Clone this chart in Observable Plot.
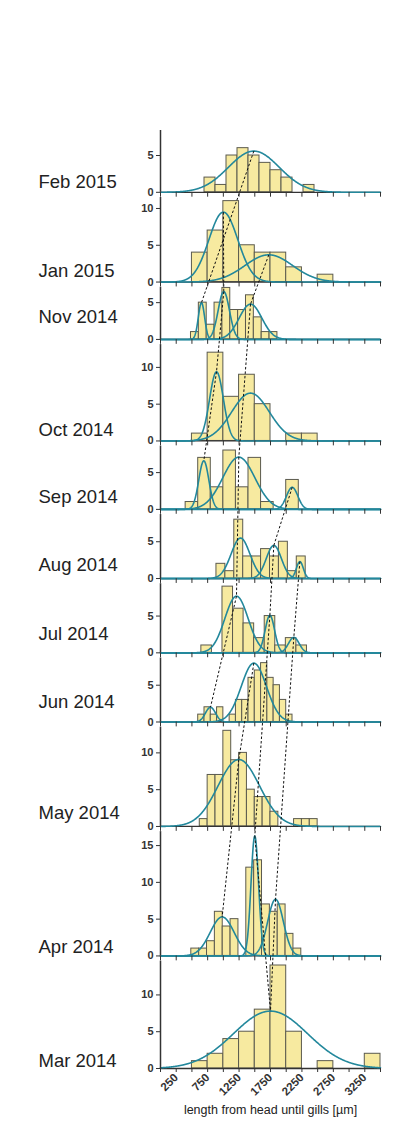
<!DOCTYPE html>
<html><head><meta charset="utf-8">
<script src="https://cdn.jsdelivr.net/npm/d3@7"></script>
<script src="https://cdn.jsdelivr.net/npm/@observablehq/plot@0.6"></script>
<style>body{margin:0;background:#fff;font-family:"Liberation Sans",Arial,sans-serif}</style>
</head><body><div id="chart"></div>
<script>
// panels, top to bottom
const months = ["Feb 2015","Jan 2015","Nov 2014","Oct 2014","Sep 2014","Aug 2014","Jul 2014","Jun 2014","May 2014","Apr 2014","Mar 2014"];
// histogram bins: first edge and width (µm), then counts per bin
const binStart = [700, 500, 485, 500, 400, 890, 650, 600, 625, 490, 500];
const binWidth = [175, 250, 125, 250, 200, 142, 168, 100, 125, 125, 250];
const counts = [
  [2,1,5,6,5,4,3,2,0,1],
  [4,7,11,5,4,4,2,0,1],
  [1,5,2,5,7,4,4,6,3,1,1],
  [1,12,6,9,5,0,1,1],
  [1,7,3,8,3,7,1,0,4],
  [2,1,8,3,3,4,3,5,1,3],
  [1,0,9,6,4,2,5,1,2,1],
  [1,2,1,2,0,1,3,3,6,7,8,6,5,3,1],
  [1,7,7,13,9,10,5,4,4,2,0,0,1,1,1],
  [1,1,2,6,4,5,0,12,13,7,6,7,3,1],
  [1,2,4,5,8,14,5,0,1,0,0,2]
];
// fitted gaussian components per panel
const gaussMean = [[1485],[1000,1723],[652,1007,1432],[891,1432],[689,1246,2095],[1273,1803,2217],[1209,1740,2121],[795,1485],[1246],[981,1500,1830],[1750]];
const gaussSD   = [[405],[230,380],[50,90,180],[110,300],[80,255,90],[150,120,55],[185,75,85],[80,200],[330],[190,60,125],[590]];
const gaussAmp  = [[5.6],[9.5,3.7],[5.0,6.5,4.8],[9.4,6.5],[6.6,7.1,3.0],[5.5,4.5,2.3],[7.7,5.1,2.1],[2.0,8.0],[9.1],[5.3,16.3,7.7],[7.8]];
// top of each panel's count axis
const axisTop = [8.4, 11.5, 7.1, 13.1, 8.6, 8.7, 9.4, 8.7, 13.5, 16.9, 14.6];
const yTickValues = [0, 5, 10, 15];
const xTickValues = d3.range(0, 3501, 250);
const xLabelValues = [250, 750, 1250, 1750, 2250, 2750, 3250];
const xTitle = "length from head until gills [µm]";
// dashed connections between component peaks [upper month, comp, lower month, comp]
const links = [
  ["Feb 2015",0,"Nov 2014",0],
  ["Jan 2015",0,"Nov 2014",1],
  ["Jan 2015",1,"Nov 2014",2],
  ["Nov 2014",1,"Oct 2014",0],
  ["Nov 2014",2,"Sep 2014",1],
  ["Oct 2014",0,"Sep 2014",0],
  ["Sep 2014",1,"Jul 2014",0],
  ["Sep 2014",2,"Aug 2014",1],
  ["Aug 2014",1,"Jul 2014",1],
  ["Aug 2014",2,"Jul 2014",2],
  ["Jul 2014",0,"Jun 2014",0],
  ["Jun 2014",1,"May 2014",0],
  ["May 2014",0,"Apr 2014",0],
  ["Jul 2014",1,"Apr 2014",1],
  ["Jul 2014",2,"Apr 2014",2],
  ["Apr 2014",1,"Mar 2014",0],
  ["Apr 2014",2,"Mar 2014",0]
];

// ---- layout ----
const xMax = 3500;
const gap = 0.7;
const W = 403, H = 1135, mT = 130, mB = 67;
const labelLift = [10.7, 10.7, 22, 10.7, 12, 13, 19, 20, 13, 8.5, 7]; // px above baseline

const n = months.length;
const base = new Array(n);
base[n-1] = 0;
for (let i = n-2; i >= 0; i--) base[i] = base[i+1] + axisTop[i+1] + gap;
const total = base[0] + axisTop[0];
const pxPerUnit = (H - mT - mB) / total;
const idx = Object.fromEntries(months.map((m,i)=>[m,i]));

const bars = [];
counts.forEach((cs,i)=>cs.forEach((c,k)=>{ if (c>0) bars.push({x1: binStart[i]+k*binWidth[i], x2: binStart[i]+(k+1)*binWidth[i], y1: base[i], y2: base[i]+c}); }));

const curve = [];
gaussMean.forEach((ms,i)=>ms.forEach((mu,j)=>{
  const sd = gaussSD[i][j], a = gaussAmp[i][j];
  for (let x = 0; x <= xMax; x += 5) curve.push({key: i+"-"+j, x, y: base[i] + a*Math.exp(-((x-mu)**2)/(2*sd*sd))});
}));

const panels = months.map((m,i)=>({m, base: base[i], top: base[i]+axisTop[i], ly: base[i] + labelLift[i]/pxPerUnit}));
const yTicks = [], yLab = new Map();
months.forEach((m,i)=>yTickValues.forEach(t=>{ if (t <= axisTop[i]) { const g = base[i]+t; yTicks.push(g); yLab.set(g.toFixed(4), String(t)); } }));
const xTicksPanels = [];
months.forEach((m,i)=>{ if (i < n-1) xTickValues.forEach(x=>xTicksPanels.push({x, y: base[i]})); });
const linkData = links.map(([ma,ca,mb,cb])=>{ const a = idx[ma], b = idx[mb];
  return {x1: gaussMean[a][ca], y1: base[a]+gaussAmp[a][ca], x2: gaussMean[b][cb], y2: base[b]+gaussAmp[b][cb]}; });

const tickShape = {draw(ctx, l){ ctx.moveTo(0,0); ctx.lineTo(0,-l); }};
const ink = "#333";

const chart = Plot.plot({
  width: W, height: H,
  marginLeft: 160, marginRight: 23, marginTop: mT, marginBottom: mB,
  style: {fontFamily: '"Liberation Sans", Arial, sans-serif', background: "#fff"},
  x: {domain: [0, xMax]},
  y: {domain: [0, total]},
  marks: [
    Plot.rect(bars, {x1:"x1", x2:"x2", y1:"y1", y2:"y2", fill:"#F7EAA0", stroke:"#5b5a4e", strokeWidth:1}),
    Plot.ruleY(panels, {y:"base", x1:0, x2:xMax, stroke:ink, strokeWidth:1.3}),
    Plot.line(curve, {x:"x", y:"y", z:"key", stroke:"#23889c", strokeWidth:1.6}),
    Plot.link(linkData, {x1:"x1", y1:"y1", x2:"x2", y2:"y2", stroke:"#111", strokeWidth:1, strokeDasharray:"2.5,2"}),
    Plot.ruleX(panels, {x:0, y1:"base", y2:"top", stroke:ink, strokeWidth:1.5}),
    Plot.vector(xTicksPanels, {x:"x", y:"y", length:4, rotate:180, anchor:"start", shape: tickShape, stroke:ink, strokeWidth:1}),
    Plot.axisY(yTicks, {tickFormat: d => yLab.get(d.toFixed(4)), tickSize:4, tickPadding:3, fontSize:11, fontWeight:"bold", label:null, stroke: ink, color: ink}),
    Plot.axisX(xTickValues, {tickFormat: d => xLabelValues.includes(d) ? String(d) : "", tickSize:4, tickPadding:3, tickRotate:-45, fontSize:11.5, fontWeight:"bold", label:null, stroke: ink, color: ink}),
    Plot.text([xTitle], {frameAnchor:"bottom", dy:45, text: d=>d, fontSize:12.5, fill:"#222"}),
    Plot.text(panels, {y:"ly", frameAnchor:"left", dx:-122, text:"m", textAnchor:"start", fontSize:18.5, fill:"#222"})
  ]
});
document.getElementById("chart").append(chart);
</script>
</body></html>
